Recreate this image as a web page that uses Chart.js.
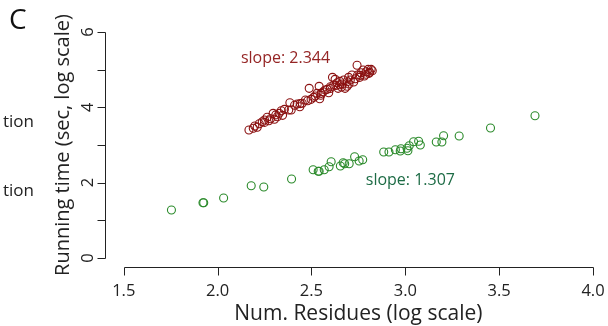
<!DOCTYPE html>
<html>
<head>
<meta charset="utf-8">
<script src="https://cdn.jsdelivr.net/npm/chart.js@4"></script>
<style>
  body { margin: 0; background: #fff; }
  #wrap { width: 608px; height: 326px; position: relative; }
</style>
</head>
<body>
<div id="wrap"><canvas id="chartC"></canvas></div>
<script>
// data (log num residues, log running time)
const redX = [2.167, 2.190, 2.198, 2.211, 2.222, 2.238, 2.250, 2.264, 2.273, 2.282, 2.296, 2.303, 2.318, 2.328, 2.339, 2.346, 2.356, 2.379, 2.385, 2.392,
  2.410, 2.424, 2.438, 2.451, 2.468, 2.480, 2.488, 2.498, 2.512, 2.521, 2.530, 2.541, 2.544, 2.552, 2.562, 2.573, 2.584, 2.592, 2.601, 2.612,
  2.619, 2.626, 2.637, 2.642, 2.651, 2.663, 2.672, 2.679, 2.690, 2.698, 2.707, 2.716, 2.725, 2.734, 2.743, 2.746, 2.757, 2.764, 2.775, 2.782,
  2.791, 2.802, 2.807, 2.818, 2.824, 2.650, 2.700, 2.760, 2.600, 2.550, 2.310, 2.250, 2.440, 2.660, 2.690, 2.630, 2.790, 2.810];
const redY = [3.398, 3.443, 3.504, 3.470, 3.565, 3.618, 3.663, 3.735, 3.645, 3.698, 3.841, 3.682, 3.751, 3.841, 3.910, 3.788, 3.947, 3.929, 4.123, 3.929,
  4.054, 4.088, 4.016, 4.107, 4.194, 4.176, 4.505, 4.213, 4.266, 4.300, 4.372, 4.558, 4.229, 4.372, 4.415, 4.460, 4.478, 4.388, 4.547, 4.797,
  4.593, 4.744, 4.654, 4.505, 4.691, 4.619, 4.725, 4.505, 4.680, 4.797, 4.725, 4.858, 4.672, 4.760, 5.116, 4.858, 4.797, 4.919, 4.991, 4.831,
  4.946, 5.009, 4.903, 5.009, 4.972, 4.600, 4.620, 4.850, 4.500, 4.320, 3.800, 3.600, 4.100, 4.540, 4.560, 4.580, 4.880, 4.930];

const greenX = [1.754, 1.922, 1.926, 2.032, 2.179, 2.246, 2.394, 2.509, 2.536, 2.541, 2.568, 2.594, 2.605, 2.654, 2.669, 2.677, 2.701, 2.730,
  2.754, 2.773, 2.885, 2.913, 2.947, 2.973, 2.977, 3.009, 3.014, 3.021, 3.044, 3.071, 3.080, 3.165, 3.195, 3.204, 3.287, 3.454, 3.691];
const greenY = [1.274, 1.468, 1.468, 1.593, 1.919, 1.885, 2.097, 2.344, 2.302, 2.302, 2.344, 2.424, 2.556, 2.442, 2.530, 2.503, 2.503, 2.689,
  2.575, 2.609, 2.814, 2.814, 2.875, 2.840, 2.902, 2.912, 2.848, 2.981, 3.087, 3.098, 3.000, 3.079, 3.079, 3.247, 3.239, 3.451, 3.778];

const xTicks = [1.5, 2.0, 2.5, 3.0, 3.5, 4.0];
const yTicks = [0, 1, 2, 3, 4, 5, 6];
const yTickLabels = ['0', '', '2', '', '4', '', '6'];

const FONT = '"Open Sans", "Noto Sans", sans-serif';

function toPoints(xs, ys) {
  return xs.map((v, i) => ({ x: v, y: ys[i] }));
}

// R style detached axes, drawn from the chart's own scales
const rAxes = {
  id: 'rAxes',
  afterDraw(chart) {
    const ctx = chart.ctx;
    const xs = chart.scales.x;
    const ys = chart.scales.y;
    const area = chart.chartArea;
    ctx.save();
    ctx.strokeStyle = '#222';
    ctx.fillStyle = '#222';
    ctx.lineWidth = 1;

    // x axis
    const yb = Math.round(area.bottom) + 0.5;
    ctx.beginPath();
    ctx.moveTo(Math.round(xs.getPixelForValue(xTicks[0])) + 0.5, yb);
    ctx.lineTo(Math.round(xs.getPixelForValue(xTicks[xTicks.length - 1])) + 0.5, yb);
    xTicks.forEach(t => {
      const px = Math.round(xs.getPixelForValue(t)) + 0.5;
      ctx.moveTo(px, yb);
      ctx.lineTo(px, yb + 8);
    });
    ctx.stroke();
    ctx.font = '16.5px ' + FONT;
    ctx.textAlign = 'center';
    ctx.textBaseline = 'middle';
    xTicks.forEach(t => {
      ctx.fillText(t.toFixed(1), xs.getPixelForValue(t), 291);
    });
    ctx.font = '21px ' + FONT;
    ctx.fillText('Num. Residues (log scale)', (xs.getPixelForValue(1.5) + xs.getPixelForValue(4.0)) / 2, 314);

    // y axis
    const xl = Math.round(area.left) + 0.5;
    ctx.beginPath();
    ctx.moveTo(xl, Math.round(ys.getPixelForValue(yTicks[0])) + 0.5);
    ctx.lineTo(xl, Math.round(ys.getPixelForValue(yTicks[yTicks.length - 1])) + 0.5);
    yTicks.forEach(t => {
      const py = Math.round(ys.getPixelForValue(t)) + 0.5;
      ctx.moveTo(xl, py);
      ctx.lineTo(xl - 8, py);
    });
    ctx.stroke();
    ctx.font = '16.5px ' + FONT;
    yTicks.forEach((t, i) => {
      if (!yTickLabels[i]) return;
      ctx.save();
      ctx.translate(88, ys.getPixelForValue(t));
      ctx.rotate(-Math.PI / 2);
      ctx.fillText(yTickLabels[i], 0, 0);
      ctx.restore();
    });
    ctx.save();
    ctx.font = '20px ' + FONT;
    ctx.translate(63, (ys.getPixelForValue(0) + ys.getPixelForValue(6)) / 2);
    ctx.rotate(-Math.PI / 2);
    ctx.fillText('Running time (sec, log scale)', 0, 0);
    ctx.restore();

    // slope labels
    ctx.font = '16px ' + FONT;
    ctx.fillStyle = '#952525';
    ctx.fillText('slope: 2.344', xs.getPixelForValue(2.362), ys.getPixelForValue(5.31));
    ctx.fillStyle = '#1d6b45';
    ctx.fillText('slope: 1.307', xs.getPixelForValue(3.027), ys.getPixelForValue(2.07));

    // panel letter and clipped neighbour text
    ctx.fillStyle = '#111';
    ctx.font = '28px ' + FONT;
    ctx.textAlign = 'left';
    ctx.fillText('C', 9, 21);
    ctx.font = '17px ' + FONT;
    ctx.textAlign = 'right';
    ctx.fillStyle = '#222';
    ctx.fillText('tion', 34, 122);
    ctx.fillText('tion', 34, 191);
    ctx.restore();
  }
};

const ctx = document.getElementById('chartC').getContext('2d');

const chartC = new Chart(ctx, {
  type: 'scatter',
  data: {
    datasets: [
      {
        label: 'red',
        data: toPoints(redX, redY),
        borderColor: '#8b1111',
        backgroundColor: 'rgba(0,0,0,0)',
        borderWidth: 1.1,
        pointRadius: 4,
      },
      {
        label: 'green',
        data: toPoints(greenX, greenY),
        borderColor: '#2a8a2a',
        backgroundColor: 'rgba(0,0,0,0)',
        borderWidth: 1.1,
        pointRadius: 4,
      },
    ],
  },
  options: {
    responsive: true,
    maintainAspectRatio: false,
    animation: false,
    layout: { autoPadding: false, padding: { left: 105, right: 0, top: 23, bottom: 59 } },
    plugins: { legend: { display: false }, tooltip: { enabled: false } },
    scales: {
      x: { type: 'linear', min: 1.4, max: 4.08, display: false },
      y: { type: 'linear', min: -0.24, max: 6.24, display: false },
    },
  },
  plugins: [rAxes],
});
</script>
</body>
</html>
